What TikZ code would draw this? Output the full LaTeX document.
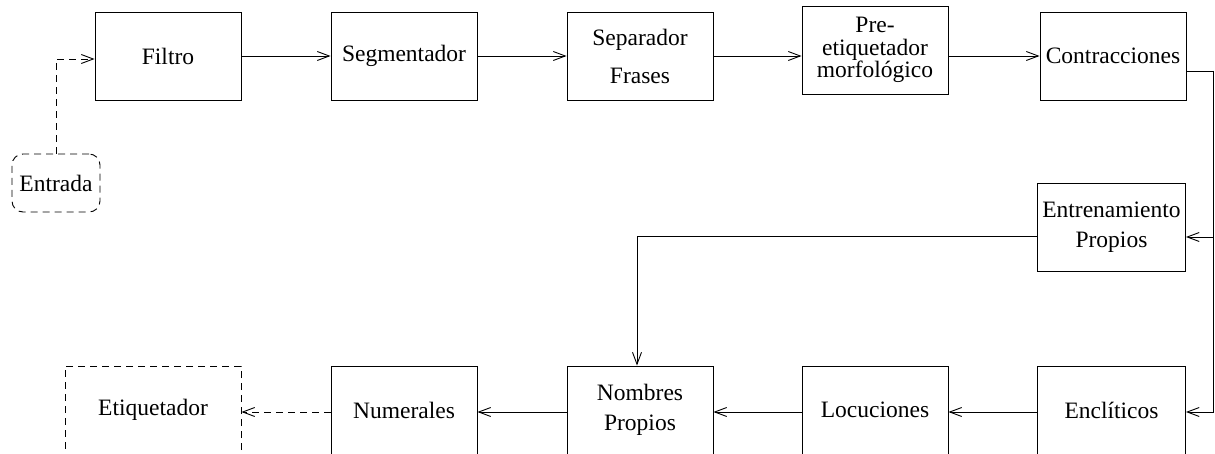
\documentclass[tikz,border=0pt]{standalone}
\usepackage{fontspec}
\setmainfont{Liberation Serif}
\usetikzlibrary{arrows.meta}
\begin{document}
\begin{tikzpicture}[x=1pt,y=-1pt,
  box/.style={draw,line width=0.9pt,minimum width=146pt,minimum height=88pt,inner sep=0pt,align=center,
    font=\fontsize{23.5}{30}\selectfont},
  dbox/.style={box,dash pattern=on 7pt off 5pt},
  arr/.style={line width=0.9pt,-{Straight Barb[length=12pt,width=9pt,line width=0.9pt]}},
  darr/.style={arr,dash pattern=on 7pt off 5pt},
  ln/.style={line width=0.9pt}]
\useasboundingbox (0,0) rectangle (1215,454);
\node[box] (filtro) at (168,56) {Filtro};
\node[box] (seg) at (404,56) {Segmentador};
\node[box] (sep) at (640,56) {Separador\\[8pt]Frases};
\node[box,font=\fontsize{23.5}{22.5}\selectfont] (pre) at (875,50) {Pre-\\etiquetador\\morfológico};
\node[box] (contr) at (1113,56) {Contracciones};
\node[box,minimum width=148pt] (entren) at (1111.5,227) {Entrenamiento\\Propios};
\node[dbox,minimum width=88pt,minimum height=58pt,rounded corners=11pt] (entrada) at (56,183) {Entrada};
\node[dbox,minimum width=176pt] (etiq) at (153,410) {Etiquetador};
\node[box] (numer) at (404,410) {Numerales};
\node[box] (nombres) at (640,410) {Nombres\\Propios};
\node[box] (locu) at (875,410) {Locuciones};
\node[box,minimum width=148pt] (encl) at (1111.5,410) {Enclíticos};
\coordinate (bend) at (1213,71);
\draw[darr] (entrada.north) |- ([yshift=-3pt]filtro.west);
\draw[arr] (filtro) -- (seg);
\draw[arr] (seg) -- (sep);
\draw[arr] (sep.east) -- (sep.east -| pre.west);
\draw[arr] (pre.east |- contr.west) -- (contr.west);
\draw[ln] ([yshift=-15pt]contr.east) -- (bend);
\draw[arr] (bend) |- ([yshift=-10pt]entren.east);
\draw[arr] (bend) |- ([yshift=-2pt]encl.east);
\draw[arr] ([yshift=-9pt]entren.west) -| ([xshift=-3pt]nombres.north);
\draw[arr] ([yshift=-2pt]encl.west) -- ([yshift=-2pt]locu.east);
\draw[arr] ([yshift=-2pt]locu.west) -- ([yshift=-2pt]nombres.east);
\draw[arr] ([yshift=-2pt]nombres.west) -- ([yshift=-2pt]numer.east);
\draw[darr] ([yshift=-2pt]numer.west) -- ([yshift=-2pt]etiq.east);
\end{tikzpicture}
\end{document}
